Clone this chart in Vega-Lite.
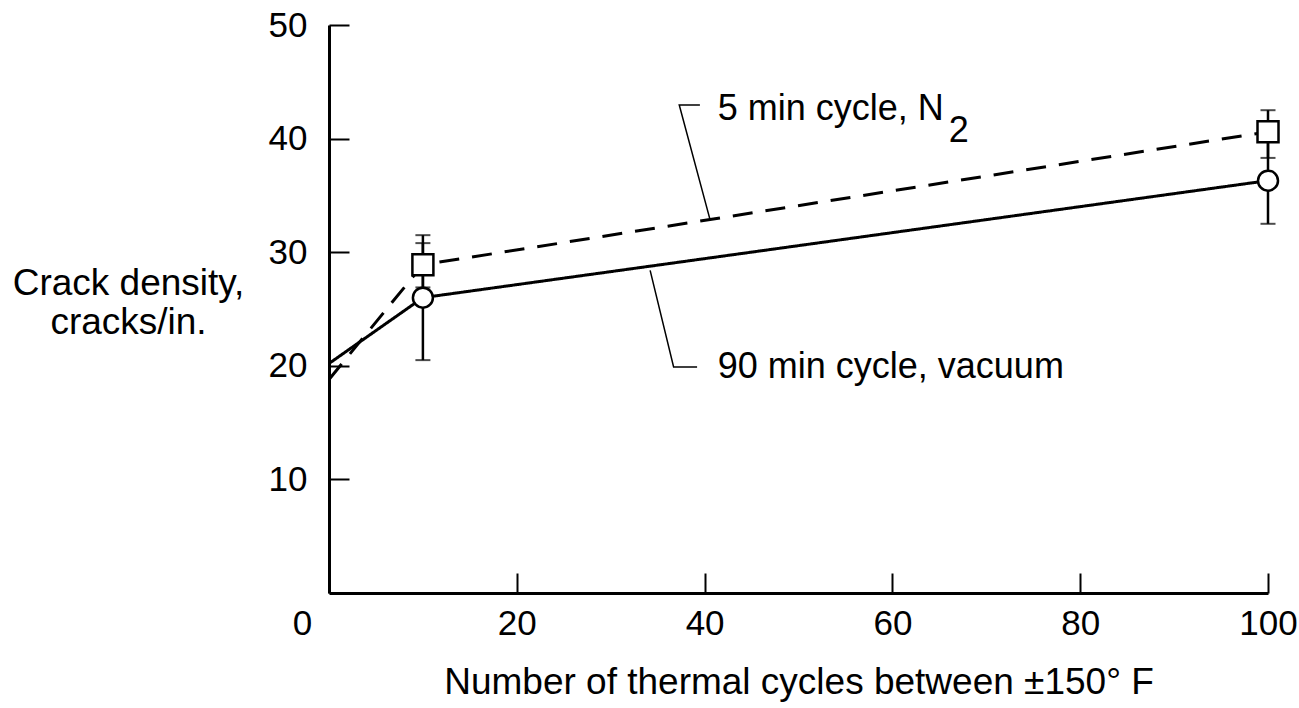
{
  "$schema": "https://vega.github.io/schema/vega-lite/v6.json",
  "width": 939,
  "height": 568,
  "autosize": "none",
  "padding": {"left": 329, "top": 25, "right": 31, "bottom": 115},
  "background": "white",
  "config": {
    "view": {"stroke": null},
    "font": "Liberation Sans",
    "axis": {
      "grid": false,
      "domainColor": "black",
      "domainWidth": 3,
      "tickColor": "black",
      "tickWidth": 2,
      "tickSize": -20,
      "labelColor": "black",
      "labelFont": "Liberation Sans",
      "labelFontSize": 35,
      "titleColor": "black",
      "titleFont": "Liberation Sans",
      "titleFontSize": 37,
      "titleFontWeight": "normal"
    }
  },
  "datasets": {
    "lines": [
      {"series": "90 min cycle, vacuum", "cycles": 0, "density": 20.2},
      {"series": "90 min cycle, vacuum", "cycles": 10, "density": 26.0},
      {"series": "90 min cycle, vacuum", "cycles": 100, "density": 36.3},
      {"series": "5 min cycle, N2", "cycles": 0, "density": 18.8},
      {"series": "5 min cycle, N2", "cycles": 10, "density": 28.9},
      {"series": "5 min cycle, N2", "cycles": 100, "density": 40.6}
    ],
    "points": [
      {"series": "5 min cycle, N2", "cycles": 10, "density": 28.9, "low": 26.9, "high": 31.5},
      {"series": "5 min cycle, N2", "cycles": 100, "density": 40.6, "low": 38.3, "high": 42.5},
      {"series": "90 min cycle, vacuum", "cycles": 10, "density": 26.0, "low": 20.5, "high": 30.8},
      {"series": "90 min cycle, vacuum", "cycles": 100, "density": 36.3, "low": 32.5, "high": 40.0}
    ],
    "leaders": [
      {"grp": "a", "ord": 1, "cycles": 40.6, "density": 32.8},
      {"grp": "a", "ord": 2, "cycles": 37.3, "density": 42.96},
      {"grp": "a", "ord": 3, "cycles": 39.5, "density": 42.96},
      {"grp": "b", "ord": 1, "cycles": 34.2, "density": 28.4},
      {"grp": "b", "ord": 2, "cycles": 36.7, "density": 19.9},
      {"grp": "b", "ord": 3, "cycles": 39.2, "density": 19.9}
    ],
    "labels": [
      {"text": "5 min cycle, N", "cycles": 41.4, "density": 41.6},
      {"text": "2", "cycles": 66.0, "density": 39.7},
      {"text": "90 min cycle, vacuum", "cycles": 41.4, "density": 18.9}
    ]
  },
  "encoding": {
    "x": {
      "field": "cycles", "type": "quantitative",
      "scale": {"domain": [0, 100], "nice": false, "zero": false},
      "axis": {
        "values": [0, 20, 40, 60, 80, 100],
        "labelFlush": false,
        "labelOffset": {"condition": {"test": "datum.value === 0", "value": -27}, "value": 0},
        "labelPadding": 33,
        "labelBaseline": "top",
        "title": "Number of thermal cycles between ±150° F",
        "titleAlign": "center",
        "titleBaseline": "alphabetic",
        "titleX": 469.5,
        "titleY": 100
      }
    },
    "y": {
      "field": "density", "type": "quantitative",
      "scale": {"domain": [0, 50], "nice": false},
      "axis": {
        "values": [10, 20, 30, 40, 50],
        "labelPadding": 42,
        "labelBaseline": "middle",
        "title": ["Crack density,", "cracks/in."],
        "titleAngle": 0,
        "titleAlign": "center",
        "titleBaseline": "alphabetic",
        "titleLineHeight": 39,
        "titleX": -201,
        "titleY": 269
      }
    }
  },
  "layer": [
    {
      "data": {"name": "lines"},
      "mark": {"type": "line", "color": "black", "strokeWidth": 3},
      "encoding": {
        "detail": {"field": "series"},
        "strokeDash": {
          "field": "series", "type": "nominal",
          "scale": {"domain": ["90 min cycle, vacuum", "5 min cycle, N2"], "range": [[1, 0], [20, 13]]},
          "legend": null
        }
      }
    },
    {
      "data": {"name": "leaders"},
      "mark": {"type": "line", "color": "black", "strokeWidth": 1.5},
      "encoding": {
        "detail": {"field": "grp"},
        "order": {"field": "ord", "type": "quantitative"}
      }
    },
    {
      "data": {"name": "points"},
      "mark": {"type": "rule", "color": "black", "strokeWidth": 2.5},
      "encoding": {
        "y": {"field": "low", "type": "quantitative"},
        "y2": {"field": "high"}
      }
    },
    {
      "data": {"name": "points"},
      "mark": {"type": "tick", "orient": "horizontal", "color": "black", "thickness": 2, "size": 15},
      "encoding": {"y": {"field": "low", "type": "quantitative"}}
    },
    {
      "data": {"name": "points"},
      "mark": {"type": "tick", "orient": "horizontal", "color": "black", "thickness": 2, "size": 15},
      "encoding": {"y": {"field": "high", "type": "quantitative"}}
    },
    {
      "data": {"name": "points"},
      "mark": {"type": "point", "filled": true, "fill": "white", "stroke": "black", "strokeWidth": 2.5, "opacity": 1},
      "encoding": {
        "shape": {
          "field": "series", "type": "nominal",
          "scale": {"domain": ["90 min cycle, vacuum", "5 min cycle, N2"], "range": ["circle", "square"]},
          "legend": null
        },
        "size": {
          "field": "series", "type": "nominal",
          "scale": {"domain": ["90 min cycle, vacuum", "5 min cycle, N2"], "range": [400, 441]},
          "legend": null
        }
      }
    },
    {
      "data": {"name": "labels"},
      "mark": {"type": "text", "align": "left", "baseline": "alphabetic", "font": "Liberation Sans", "fontSize": 36, "color": "black"},
      "encoding": {"text": {"field": "text"}}
    }
  ]
}
